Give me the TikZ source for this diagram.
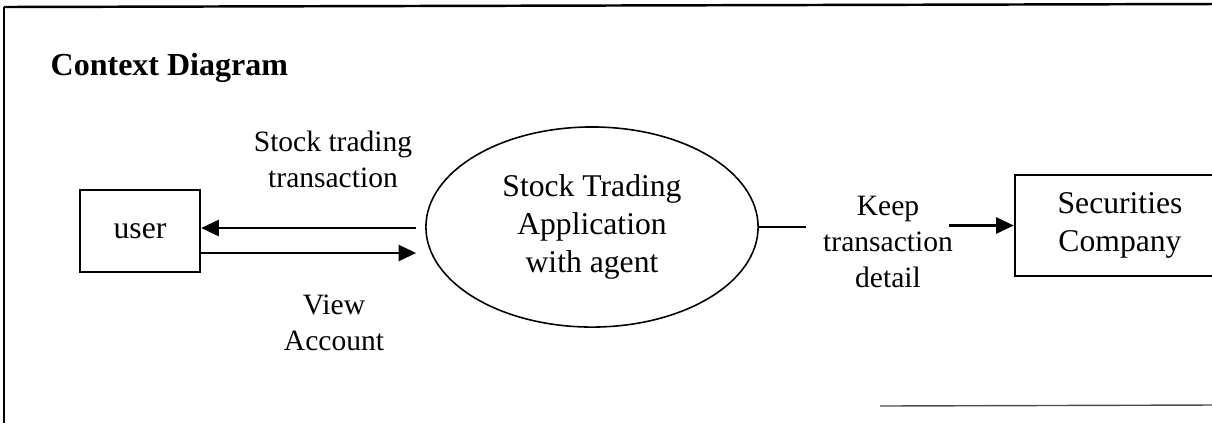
\documentclass[tikz,border=0pt]{standalone}
\usepackage{fontspec}
\setmainfont{Liberation Serif}
\usetikzlibrary{arrows.meta,shapes.geometric,calc}
\tikzset{
  entity/.style={draw, line width=0.7pt, align=center, font=\fontsize{9}{11}\selectfont, inner sep=0pt},
  process/.style={draw, ellipse, line width=0.45pt, align=center, inner sep=0pt, minimum width=3.32cm, minimum height=2cm, font=\fontsize{9}{10.8}\selectfont},
  flowlabel/.style={align=center, inner sep=0pt, font=\fontsize{8.4}{10.3}\selectfont},
  flow/.style={-{Triangle[length=5pt,width=4.6pt]}, line width=0.6pt},
  frame/.style={line width=0.7pt}
}
\begin{document}
\begin{tikzpicture}[x=0.01cm,y=-0.01cm]
\useasboundingbox (0,0) rectangle (1212,423);
\clip (0,0) rectangle (1212,423);
\draw[frame] (4,7) -- (1212,4);
\draw[frame] (4,7) -- (4,423);
\draw[line width=0.4pt, black!70] (880,406) -- (1212,405);
\node[anchor=base west, inner sep=0pt, font=\bfseries\fontsize{9.1}{11}\selectfont] (title) at (50,75) {Context Diagram};
\node[entity, minimum width=1.2cm, minimum height=0.82cm] (user) at (140,231) {user};
\node[process] (app) at (592,227) {Stock Trading\\Application\\with agent};
\node[entity, minimum width=2.1cm, minimum height=1.01cm] (sec) at (1120,225.5) {Securities\\Company};
\node[flowlabel] (trade) at (333,159.5) {Stock trading\\transaction};
\node[flowlabel] (view) at (334,323) {View\\Account};
\node[flowlabel] (keep) at (888,242) {Keep\\transaction\\detail};
\draw[flow] ($(app.west)+(-9,1)$) -- ($(app.west -| user.east)+(0,1)$);
\draw[flow] ($(app.west -| user.east)+(0,26)$) -- ($(app.west)+(-9,26)$);
\draw[line width=0.55pt] (app.east) -- ++(47,0);
\draw[flow] ($(sec.west)+(-65,0)$) -- (sec.west);
\end{tikzpicture}
\end{document}
